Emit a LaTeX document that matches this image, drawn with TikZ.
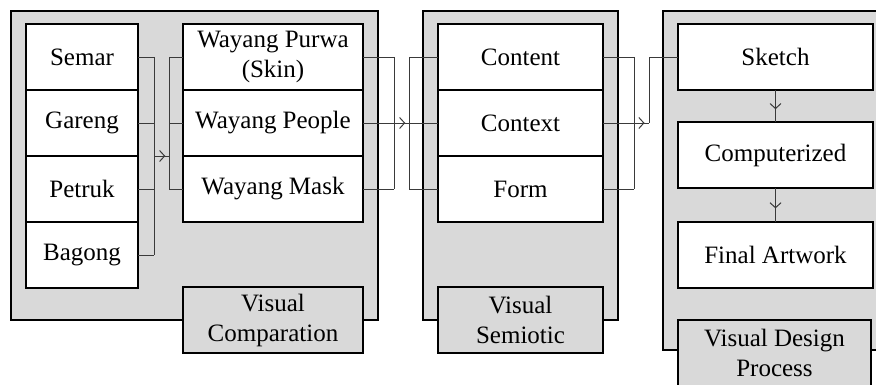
\documentclass[tikz,border=0pt]{standalone}
\usepackage{fontspec}
\setmainfont{Liberation Serif}
\usetikzlibrary{arrows.meta, positioning, decorations.markings}
\definecolor{panelgray}{HTML}{D9D9D9}
\definecolor{linkgray}{HTML}{3A3A3A}

\begin{document}
\begin{tikzpicture}[x=1pt, y=-1pt,
  group/.style={draw, line width=1.3pt, fill=panelgray},
  cell/.style={draw, line width=1.3pt, fill=white, outer sep=0pt, inner sep=2pt, align=center, font=\fontsize{25}{30}\selectfont},
  leftcell/.style={cell, minimum width=112pt, minimum height=66pt},
  wayangcell/.style={cell, minimum width=180pt, minimum height=66pt},
  semcell/.style={cell, minimum width=165pt, minimum height=66pt},
  designcell/.style={cell, minimum width=195pt, minimum height=66pt},
  tag/.style={cell, fill=panelgray, minimum height=66pt},
  link/.style={draw=linkgray, line width=0.9pt},
  midtip/.style={postaction={decorate}, decoration={markings, mark=at position #1 with {\arrow[linkgray, line width=1pt]{Straight Barb[length=5pt,width=11pt]}}}},
  midtip/.default=0.75
]
\useasboundingbox (0,0) rectangle (876,385);

% panels
\draw[group] (11,11) rectangle (378,320);
\draw[group] (423,11) rectangle (618,320);
\draw[group] (663,11) rectangle (900,350);

% visual comparation
\node[leftcell] (semar) at (82,57) {Semar};
\node[leftcell, below=0pt of semar] (gareng) {Gareng};
\node[leftcell, below=0pt of gareng] (petruk) {Petruk};
\node[leftcell, below=0pt of petruk] (bagong) {Bagong};
\node[wayangcell] (purwa) at (273,57) {Wayang Purwa\\(Skin)};
\node[wayangcell, below=0pt of purwa] (people) {Wayang People};
\node[wayangcell, below=0pt of people] (mask) {Wayang Mask};
\node[tag, minimum width=180pt] (vcomp) at (273,320) {Visual\\Comparation};

% visual semiotic
\node[semcell] (content) at (520.5,57) {Content};
\node[semcell, below=0pt of content] (context) {Context};
\node[semcell, below=0pt of context] (form) {Form};
\node[tag, minimum width=165pt] (vsem) at (520.5,320) {Visual\\Semiotic};

% visual design process
\node[designcell] (sketch) at (775.5,57) {Sketch};
\node[designcell, below=32pt of sketch] (comp) {Computerized};
\node[designcell, below=34pt of comp] (final) {Final Artwork};
\node[tag, minimum width=193pt] (vdes) at (774.5,353) {Visual Design\\Process};

\coordinate (bus1) at (154,0);
\coordinate (join1) at (169,0);
\coordinate (bus2) at (394,0);
\coordinate (join2) at (409,0);
\coordinate (bus3) at (634,0);
\coordinate (join3) at (649,0);

\foreach \n in {semar,gareng,petruk,bagong}
  \draw[link] (\n.east) -- (\n.east -| bus1);
\draw[link] (semar.east -| bus1) -- (bagong.east -| bus1);
\draw[link, midtip] (gareng.south -| bus1) -- (gareng.south -| join1);
\draw[link] (purwa.west -| join1) -- (mask.west -| join1);
\foreach \n in {purwa,people,mask}
  \draw[link] (\n.west -| join1) -- (\n.west);

\foreach \n in {purwa,people,mask}
  \draw[link] (\n.east) -- (\n.east -| bus2);
\draw[link] (purwa.east -| bus2) -- (mask.east -| bus2);
\draw[link, midtip] (people.east -| bus2) -- (people.east -| join2);
\draw[link] (content.west -| join2) -- (form.west -| join2);
\foreach \n in {content,context,form}
  \draw[link] (\n.west -| join2) -- (\n.west);

\foreach \n in {content,context,form}
  \draw[link] (\n.east) -- (\n.east -| bus3);
\draw[link] (content.east -| bus3) -- (form.east -| bus3);
\draw[link, midtip=0.7] (context.east -| bus3) -- (context.east -| join3);
\draw[link] (context.east -| join3) |- (sketch.west);

\draw[link, midtip=0.6] (sketch) -- (comp);
\draw[link, midtip=0.6] (comp) -- (final);
\end{tikzpicture}
\end{document}
